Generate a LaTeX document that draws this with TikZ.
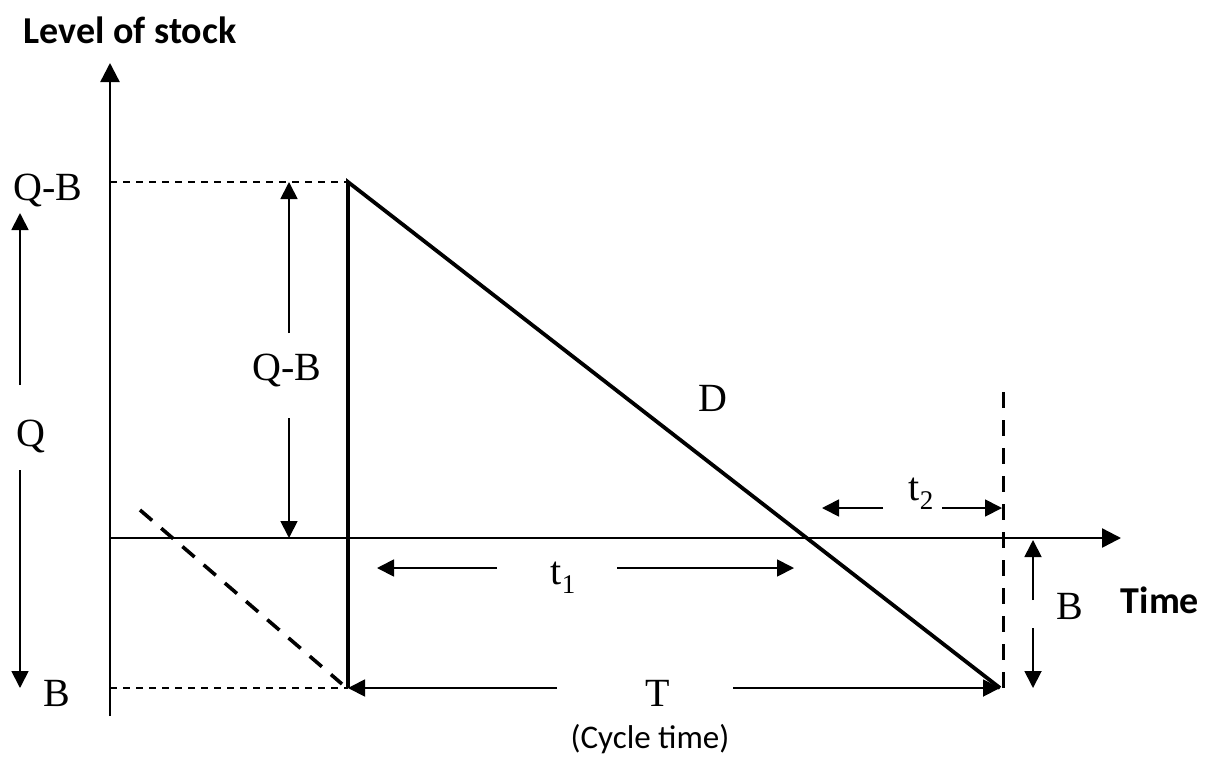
\documentclass[tikz,border=0pt]{standalone}
\usepackage{fontspec}
\setmainfont{Liberation Serif}
\newfontfamily\carlitofam{Carlito}
\usetikzlibrary{arrows.meta}
\tikzset{
  lbl/.style={font=\fontsize{40}{44}\selectfont, inner sep=0pt},
  sanslbl/.style={font=\carlitofam\bfseries\fontsize{38}{42}\selectfont, inner sep=0pt},
  axis/.style={line width=2.4pt, -{Triangle[length=19pt,width=19pt]}},
  thick line/.style={line width=3.8pt},
  dim/.style={line width=1.8pt, -{Triangle[length=17pt,width=17pt]}},
  guide/.style={line width=1.6pt, dash pattern=on 7pt off 6pt},
  bigdash/.style={line width=3.6pt, dash pattern=on 16pt off 12pt},
}
\begin{document}
\begin{tikzpicture}[x=1pt,y=-1pt]
\useasboundingbox (0,0) rectangle (1209,758);
% key points
\coordinate (O) at (110,538);
\coordinate (ytip) at (110,63);
\coordinate (ybot) at (110,716);
\coordinate (xtip) at (1121,538);
\coordinate (P) at (348,182);
\coordinate (Pb) at (348,688);
\coordinate (E) at (1000,688);
\coordinate (yQB) at (110,182);
\coordinate (yB) at (110,688);
% axes
\draw[line width=2.4pt] (ybot) -- (O);
\draw[axis] (O) -- (ytip);
\draw[axis] (O) -- (xtip);
% guides
\draw[guide] (yQB) -- (P);
\draw[guide] (yB) -- (Pb);
% stock curve
\draw[thick line, line join=miter] (Pb) -- (P) -- (E);
% dashed lines
\coordinate (d1) at (140,510);
\coordinate (d2) at (342,684);
\draw[bigdash] (d1) -- (d2);
\coordinate (v1) at (1003,392);
\coordinate (v2) at (1003,688);
\draw[bigdash, line width=3pt] (v1) -- (v2);
% labels
\node[sanslbl] (lvl) at (130,30) {Level of stock};
\node[sanslbl] (time) at (1160,600) {Time};
\node[sanslbl, font=\carlitofam\fontsize{33}{36}\selectfont] (cyc) at (650,739) {(Cycle time)};
\node[lbl] (QBl) at (48,190) {Q-B};
\node[lbl] (Bl) at (57,693) {B};
\node[lbl] (Ql) at (31,436) {Q};
\node[lbl] (QBm) at (287,370) {Q-B};
\node[lbl] (D) at (713,398) {D};
\node[lbl] (t1) at (563,578) {t\raisebox{-0.22em}{\fontsize{27}{30}\selectfont 1}};
\node[lbl] (t2) at (921,494) {t\raisebox{-0.22em}{\fontsize{27}{30}\selectfont 2}};
\node[lbl] (T) at (658,693) {T};
\node[lbl] (Br) at (1070,606) {B};
% Q arrow (left)
\coordinate (qa1) at (20,385);
\coordinate (qa2) at (20,213);
\coordinate (qb1) at (20,470);
\coordinate (qb2) at (20,688);
\draw[dim] (qa1) -- (qa2);
\draw[dim] (qb1) -- (qb2);
% Q-B arrow (inner)
\coordinate (ma1) at (289,333);
\coordinate (ma2) at (289,182);
\coordinate (mb1) at (289,418);
\coordinate (mb2) at (289,538);
\draw[dim] (ma1) -- (ma2);
\draw[dim] (mb1) -- (mb2);
% t1 arrows
\coordinate (ta1) at (497,568);
\coordinate (ta2) at (377,568);
\coordinate (tb1) at (617,568);
\coordinate (tb2) at (794,568);
\draw[dim] (ta1) -- (ta2);
\draw[dim] (tb1) -- (tb2);
% T arrows
\coordinate (Ta1) at (557,688);
\coordinate (Tb1) at (733,688);
\draw[dim] (Ta1) -- (Pb);
\draw[dim] (Tb1) -- (E);
% t2 arrows
\coordinate (sa1) at (883,508);
\coordinate (sa2) at (822,508);
\coordinate (sb1) at (942,508);
\coordinate (sb2) at (1002,508);
\draw[dim] (sa1) -- (sa2);
\draw[dim] (sb1) -- (sb2);
% B arrows (right)
\coordinate (ba1) at (1033,600);
\coordinate (ba2) at (1033,540);
\coordinate (bb1) at (1033,628);
\coordinate (bb2) at (1033,688);
\draw[dim] (ba1) -- (ba2);
\draw[dim] (bb1) -- (bb2);
\end{tikzpicture}
\end{document}
